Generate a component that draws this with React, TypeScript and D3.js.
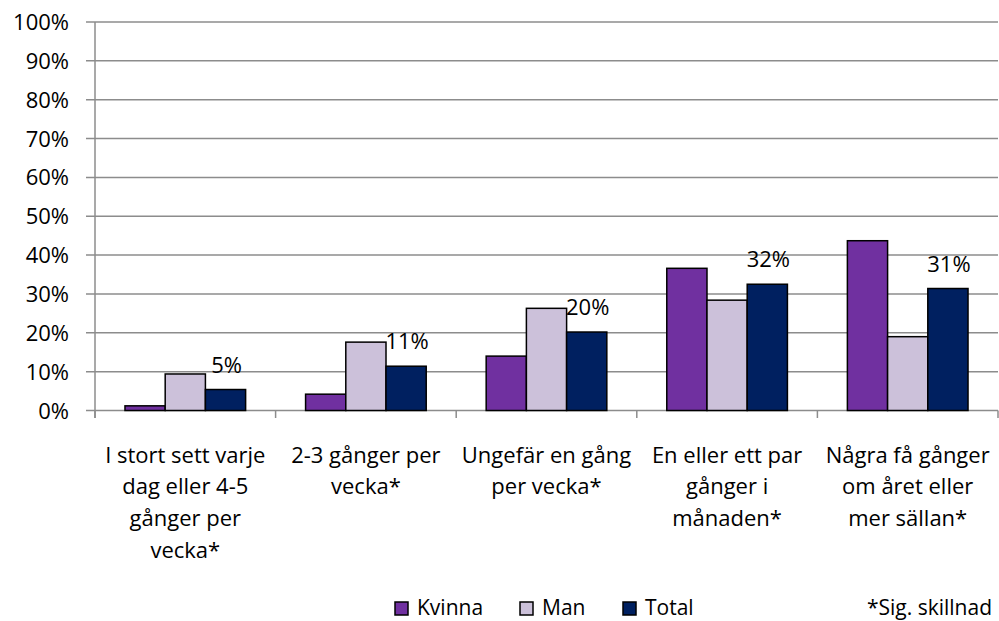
import React from "react";
import * as d3 from "d3";

const categories: string[][] = [
  ["I stort sett varje", "dag eller 4-5", "gånger per", "vecka*"],
  ["2-3 gånger per", "vecka*"],
  ["Ungefär en gång", "per vecka*"],
  ["En eller ett par", "gånger i", "månaden*"],
  ["Några få gånger", "om året eller", "mer sällan*"],
];
const seriesNames = ["Kvinna", "Man", "Total"];
const kvinna = [0.012, 0.042, 0.14, 0.366, 0.437];
const man = [0.094, 0.176, 0.263, 0.284, 0.19];
const total = [0.054, 0.114, 0.202, 0.325, 0.314];
const totalLabels = ["5%", "11%", "20%", "32%", "31%"];
const yTicks = [0, 0.1, 0.2, 0.3, 0.4, 0.5, 0.6, 0.7, 0.8, 0.9, 1.0];
const colors = ["#7030A0", "#CCC1DA", "#002060"];
const footnote = "*Sig. skillnad";

const W = 999;
const H = 621;
const FONT = "'Open Sans', sans-serif";

export default function App() {
  const series = [kvinna, man, total];
  const catIdx = categories.map((_, i) => i);
  const x0 = d3.scaleBand<number>().domain(catIdx).range([95, 998]).padding(0);
  const step = x0.step();
  const x1 = d3
    .scaleBand<number>()
    .domain([0, 1, 2])
    .range([step * 0.166, step * 0.834])
    .padding(0);
  const y = d3.scaleLinear().domain([0, 1]).range([410.5, 22]);
  const fmt = d3.format(".0%");
  const gridColor = "#8c8c8c";
  const FS = 22;

  return (
    <svg
      width={W}
      height={H}
      style={{ position: "absolute", left: 0, top: 0, background: "#fff" }}
      fontFamily={FONT}
    >
      {yTicks.map((t) => (
        <line
          key={"g" + t}
          x1={86}
          x2={998}
          y1={y(t)}
          y2={y(t)}
          stroke={gridColor}
          strokeWidth={1.5}
        />
      ))}
      <line x1={95} x2={95} y1={y(1)} y2={418} stroke={gridColor} strokeWidth={1.5} />
      {[...catIdx, catIdx.length].map((i) => {
        const xx = i < catIdx.length ? (x0(i) as number) : 998;
        return (
          <line
            key={"xt" + i}
            x1={xx}
            x2={xx}
            y1={y(0)}
            y2={418}
            stroke={gridColor}
            strokeWidth={1.5}
          />
        );
      })}
      {yTicks.map((t) => (
        <text
          key={"yl" + t}
          x={69}
          y={y(t) + 8}
          textAnchor="end"
          fontSize={FS}
          fill="#000"
        >
          {fmt(t)}
        </text>
      ))}
      {catIdx.map((ci) =>
        series.map((s, si) => (
          <rect
            key={"b" + ci + "-" + si}
            x={(x0(ci) as number) + (x1(si) as number)}
            y={y(s[ci])}
            width={x1.bandwidth()}
            height={y(0) - y(s[ci])}
            fill={colors[si]}
            stroke="#000"
            strokeWidth={1.5}
          />
        ))
      )}
      {catIdx.map((ci) => (
        <text
          key={"tl" + ci}
          x={(x0(ci) as number) + (x1(2) as number) + x1.bandwidth() / 2 + 1}
          y={y(total[ci]) - 17}
          textAnchor="middle"
          fontSize={FS}
          fill="#000"
        >
          {totalLabels[ci]}
        </text>
      ))}
      {categories.map((lines, ci) => (
        <text
          key={"cl" + ci}
          x={(x0(ci) as number) + step / 2}
          y={462.5}
          textAnchor="middle"
          fontSize={FS}
          fill="#000"
        >
          {lines.map((ln, li) => (
            <tspan key={li} x={(x0(ci) as number) + step / 2} y={462.5 + li * 31.8}>
              {ln}
            </tspan>
          ))}
        </text>
      ))}
      {seriesNames.map((n, i) => {
        const lx = [395, 520, 623][i];
        return (
          <g key={"lg" + i}>
            <rect
              x={lx}
              y={602}
              width={13}
              height={13}
              fill={colors[i]}
              stroke="#000"
              strokeWidth={1.5}
            />
            <text x={lx + 22} y={615} fontSize={21} fill="#000">
              {n}
            </text>
          </g>
        );
      })}
      <text x={992} y={615} textAnchor="end" fontSize={21} fill="#000">
        {footnote}
      </text>
    </svg>
  );
}
